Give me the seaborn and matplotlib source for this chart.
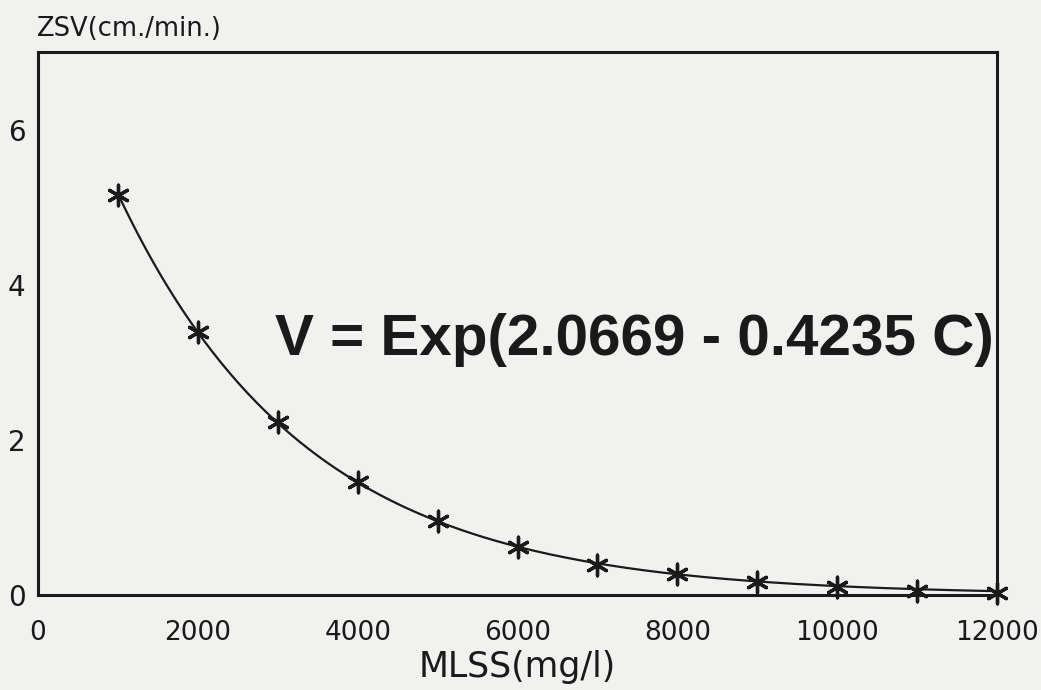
import numpy as np
import pandas as pd
import matplotlib
matplotlib.use("Agg")
import matplotlib.pyplot as plt
import seaborn as sns

# Data
mlss = [1000, 2000, 3000, 4000, 5000, 6000, 7000, 8000, 9000, 10000, 11000, 12000]
zsv = [5.16, 3.39, 2.23, 1.46, 0.95, 0.62, 0.39, 0.27, 0.17, 0.10, 0.05, 0.03]

# Fit parameters printed on the chart: V = Exp(a - b C), C in g/l
fit_a = 2.0669
fit_b = 0.4235

x_ticks = [0, 2000, 4000, 6000, 8000, 10000, 12000]
y_ticks = [0, 2, 4, 6]

sns.set_theme(style="white")
plt.rcParams['font.family'] = ['DejaVu Sans']

ink = '#1a1a1a'
bg = '#f1f1ef'
fig = plt.figure(figsize=(10.41, 6.90), dpi=100, facecolor=bg)
ax = fig.add_axes([0.0365, 0.1377, 0.9213, 0.7869])
ax.set_facecolor(bg)

c_grid = np.linspace(mlss[0], mlss[-1], 300)
fit_df = pd.DataFrame({"MLSS": c_grid, "V": np.exp(fit_a - fit_b * c_grid / 1000.0)})
sns.lineplot(data=fit_df, x="MLSS", y="V", ax=ax, color=ink, linewidth=1.6)

pts = pd.DataFrame({"MLSS": mlss, "V": zsv})
sns.scatterplot(data=pts, x="MLSS", y="V", ax=ax, marker=(6, 2, 0), s=220,
                color=ink, linewidth=2.4, edgecolor=ink, zorder=5, clip_on=False)

ax.set_xlim(0, 12000)
ax.set_ylim(0, 7.0)
ax.set_xticks(x_ticks)
ax.set_yticks(y_ticks)
ax.set_xticklabels([str(t) for t in x_ticks], fontsize=19, color=ink)
ax.set_yticklabels([str(t) for t in y_ticks], fontsize=20, color=ink)
ax.tick_params(axis='both', direction='in', length=9, width=1.6, color=ink)
ax.tick_params(axis='x', pad=18)
ax.tick_params(axis='y', pad=9)

for s in ax.spines.values():
    s.set_visible(True)
    s.set_linewidth(2.2)
    s.set_color(ink)

ax.set_xlabel("MLSS(mg/l)", fontsize=25, color=ink, labelpad=3)
ax.set_ylabel("")
fig.text(0.035, 0.958, "ZSV(cm./min.)", fontsize=18.5, color=ink, ha='left', va='center')

ax.text(0.997, 0.47, "V = Exp(2.0669 - 0.4235 C)", transform=ax.transAxes,
        fontsize=42, fontweight='bold', color=ink, ha='right', va='center',
        family='Liberation Sans')

fig.savefig("out.png", dpi=100, facecolor=bg)
